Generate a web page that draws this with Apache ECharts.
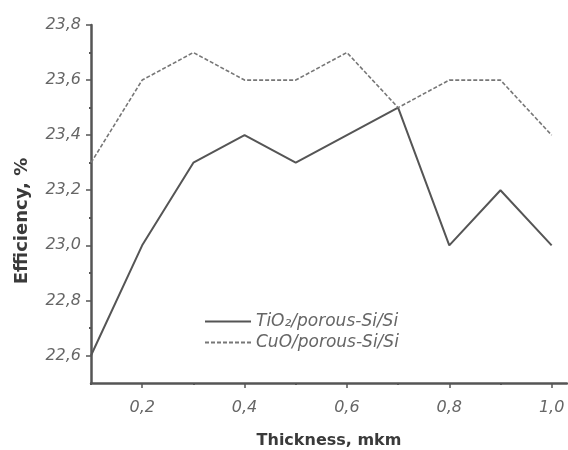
<!DOCTYPE html>
<html>
<head>
<meta charset="utf-8">
<script src="https://cdn.jsdelivr.net/npm/echarts@6/dist/echarts.min.js"></script>
<style>
  html, body { margin: 0; padding: 0; background: #fff; }
  #chart { width: 568px; height: 450px; }
</style>
</head>
<body>
<div id="chart"></div>
<script>
// Film thickness, mkm
const thickness = [0.1, 0.2, 0.3, 0.4, 0.5, 0.6, 0.7, 0.8, 0.9, 1.0];
// Efficiency, %
const tio2Eff = [22.6, 23.0, 23.3, 23.4, 23.3, 23.4, 23.5, 23.0, 23.2, 23.0];
const cuoEff  = [23.3, 23.6, 23.7, 23.6, 23.6, 23.7, 23.5, 23.6, 23.6, 23.4];
const seriesNames = ['TiO₂/porous-Si/Si', 'CuO/porous-Si/Si'];
// Tick positions
const xMajorTicks = [0.2, 0.4, 0.6, 0.8, 1.0];
const xMinorTicks = [0.1, 0.3, 0.5, 0.7, 0.9];
const yMajorTicks = [22.6, 22.8, 23.0, 23.2, 23.4, 23.6, 23.8];
const yMinorTicks = [22.7, 22.9, 23.1, 23.3, 23.5, 23.7];

const ink = '#555';
const face = 'DejaVu Sans';
const fmt = (d) => (v) => v.toFixed(d).replace('.', ',');
const tickFont = { color: '#666', fontStyle: 'italic', fontFamily: face, fontSize: 16 };
const titleFont = { color: '#3a3a3a', fontWeight: 'bold', fontFamily: face, fontSize: 16 };

const xRange = { min: 0.1, max: 1.03 };
const yRange = { min: 22.5, max: 23.8 };

const chart = echarts.init(document.getElementById('chart'), null, { renderer: 'canvas' });
chart.setOption({
  animation: false,
  backgroundColor: '#fff',
  grid: { left: 91, right: 1, top: 25, bottom: 67, outerBoundsMode: 'none' },
  legend: {
    left: 199, top: 308, orient: 'vertical', itemGap: 4,
    itemWidth: 46, itemHeight: 14,
    itemStyle: { opacity: 0 },
    textStyle: { color: '#666', fontStyle: 'italic', fontFamily: face, fontSize: 17 },
    data: seriesNames
  },
  xAxis: [
    {
      type: 'value', ...xRange,
      name: 'Thickness, mkm', nameLocation: 'middle', nameGap: 50,
      nameTextStyle: titleFont,
      splitLine: { show: false },
      axisLine: { lineStyle: { color: ink, width: 2.5 } },
      axisTick: { customValues: xMajorTicks, length: 5, lineStyle: { color: ink, width: 1.5 } },
      axisLabel: { customValues: xMajorTicks, formatter: fmt(1), margin: 17, ...tickFont }
    },
    {
      type: 'value', ...xRange, position: 'bottom',
      splitLine: { show: false },
      axisLine: { show: false },
      axisTick: { customValues: xMinorTicks, length: 2, lineStyle: { color: ink, width: 2 } },
      axisLabel: { show: false }
    }
  ],
  yAxis: [
    {
      type: 'value', ...yRange,
      name: 'Efficiency, %', nameLocation: 'middle', nameGap: 60,
      nameTextStyle: { ...titleFont, fontSize: 18, padding: [0, 34, 0, 0] },
      splitLine: { show: false },
      axisLine: { show: true, lineStyle: { color: ink, width: 2.5 } },
      axisTick: { show: true, customValues: yMajorTicks, length: 5, lineStyle: { color: ink, width: 1.5 } },
      axisLabel: { customValues: yMajorTicks, formatter: fmt(1), margin: 10, ...tickFont }
    },
    {
      type: 'value', ...yRange, position: 'left',
      splitLine: { show: false },
      axisLine: { show: false },
      axisTick: { show: true, customValues: yMinorTicks, length: 2, lineStyle: { color: ink, width: 2 } },
      axisLabel: { show: false }
    }
  ],
  series: [
    {
      name: seriesNames[0], type: 'line', symbol: 'none',
      data: thickness.map((t, i) => [t, tio2Eff[i]]),
      lineStyle: { color: '#555', width: 2, type: 'solid' },
      itemStyle: { color: '#555' }
    },
    {
      name: seriesNames[1], type: 'line', symbol: 'none',
      data: thickness.map((t, i) => [t, cuoEff[i]]),
      lineStyle: { color: '#777', width: 1.6, type: [4, 2] },
      itemStyle: { color: '#777' }
    }
  ]
});
</script>
</body>
</html>
